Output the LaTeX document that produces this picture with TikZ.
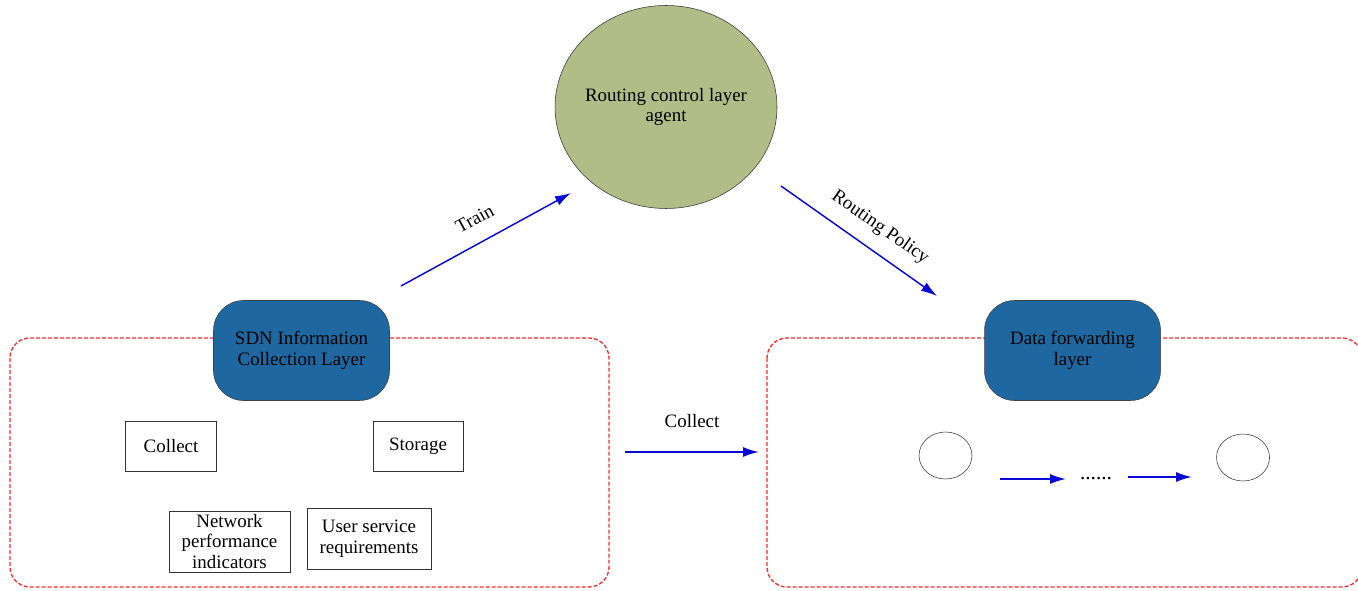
\documentclass[tikz,border=0pt]{standalone}
\usepackage{fontspec}
\setmainfont{Liberation Serif}
\usetikzlibrary{arrows.meta,shapes.geometric}
\definecolor{layerblue}{RGB}{30,103,160}
\definecolor{agentgreen}{RGB}{178,188,134}
\definecolor{flowblue}{RGB}{10,10,215}
\definecolor{groupred}{RGB}{245,45,45}
\newcommand{\txtsize}{\fontsize{14.2}{15.5}\selectfont}
\tikzset{
  layer/.style={draw=black!75, fill=layerblue, rounded corners=30*0.75pt, minimum width=176*0.75pt, minimum height=100*0.75pt, align=center, font=\txtsize, text=black},
  group/.style={draw=groupred, dash pattern=on 3pt off 1.5pt, rounded corners=20*0.75pt, line width=1pt},
  item/.style={draw=black!80, fill=white, align=center, font=\txtsize, inner sep=0pt},
  flow/.style={draw=flowblue, line width=1.1pt, -{Latex[length=12pt,width=7.5pt]}},
  hop/.style={draw=black!80, ellipse, minimum width=53*0.75pt, minimum height=47*0.75pt, inner sep=0pt},
  lbl/.style={font=\txtsize}
}
\begin{document}
\begin{tikzpicture}[x=0.75pt,y=-0.75pt]
\useasboundingbox (0,0) rectangle (1358,591);
\begin{scope}
\clip (0,0) rectangle (1358,591);
% dashed groups
\draw[group] (10,338) rectangle (609,587);
\draw[group] (767,338) rectangle (1362,587);
\end{scope}

% routing agent
\node[draw=black!80, fill=agentgreen, ellipse, minimum width=222*0.75pt, minimum height=203*0.75pt, inner sep=0pt] (agent) at (666,107) {};
\node[lbl, align=center] (agenttxt) at (agent.center) {Routing control layer\\agent};

% layers
\node[layer] (sdn) at (301.5,350.5) {SDN Information\\Collection Layer};
\node[layer] (dfl) at (1072.5,350.5) {Data forwarding\\layer};

% items inside the collection layer
\node[item, minimum width=91*0.75pt, minimum height=50*0.75pt] (collect) at (171,446) {Collect};
\node[item, minimum width=90*0.75pt, minimum height=50*0.75pt] (storage) at (418,446) {Storage};
\node[item, minimum width=121*0.75pt, minimum height=61*0.75pt] (npi) at (229.5,541.5) {Network\\performance\\indicators};
\node[item, minimum width=124*0.75pt, minimum height=61*0.75pt] (usr) at (369,538.5) {User service\\requirements};

% forwarding nodes
\node[hop] (h1) at (945.5,455.5) {};
\node[hop] (h2) at (1243,457.5) {};
\node[font=\fontsize{16}{16}\selectfont, anchor=base, inner sep=0pt] (dots) at (1096,479) {......};
\coordinate (a1s) at (1000,479);
\coordinate (a1e) at (1066,479);
\coordinate (a2s) at (1128,477);
\coordinate (a2e) at (1192,477);
\draw[flow] (a1s) -- (a1e);
\draw[flow] (a2s) -- (a2e);

% main flows
\coordinate (trs) at (401,286);
\coordinate (tre) at (571,193);
\draw[flow] (trs) -- (tre) node[lbl, midway, above=9pt, sloped] (train) {Train};
\coordinate (rps) at (781,186);
\coordinate (rpe) at (937,296);
\draw[flow] (rps) -- (rpe) node[lbl, pos=0.55, above=7pt, sloped] (policy) {Routing Policy};
\coordinate (cls) at (625,452);
\coordinate (cle) at (759,452);
\draw[flow] (cls) -- (cle) node[lbl, midway, above=14pt] (coll) {Collect};
\end{tikzpicture}
\end{document}
